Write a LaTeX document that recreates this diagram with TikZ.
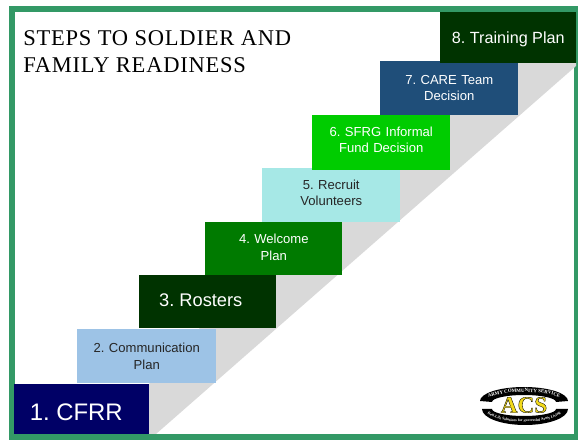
\documentclass[tikz,border=0pt]{standalone}
\usepackage{fontspec}
\setmainfont{Liberation Sans}
\newfontfamily\titlefont[LetterSpace=3.5]{Liberation Serif}
\newfontfamily\logofont{Liberation Serif}
\usepackage{xcolor}
\usetikzlibrary{positioning, decorations.text}
\definecolor{framegreen}{HTML}{339966}
\definecolor{stepgrey}{HTML}{D9D9D9}
\definecolor{navystep}{HTML}{000066}
\definecolor{skystep}{HTML}{9DC3E6}
\definecolor{darkstep}{HTML}{003300}
\definecolor{greenstep}{HTML}{007A00}
\definecolor{aquastep}{HTML}{A6E8E6}
\definecolor{limestep}{HTML}{00CC00}
\definecolor{bluestep}{HTML}{1F4E79}
\definecolor{acsyellow}{HTML}{F2D91A}
\newcommand{\liftup}[1]{\rule[-#1]{0pt}{#1}}
\newcommand{\pushdown}[1]{\rule{0pt}{#1}}
\frenchspacing

\begin{document}
\begin{tikzpicture}[
  x=0.025cm, y=-0.025cm,
  every node/.style={font=\fontsize{9.3}{11.8}\selectfont},
  stair/.style={anchor=north west, align=center, inner sep=0pt, text=white},
  stairdark/.style={stair, text=black!85}
]
\useasboundingbox (0,0) rectangle (578,444);

% Frame
\fill[white] (0,0) rectangle (578,444);
\draw[framegreen, line width=6*0.025cm] (12,9) rectangle (577,437);

% Grey band behind the stairs
\fill[stepgrey] (149,384) -- (149,434) -- (156,434) -- (576,66) -- (576,63) -- (440,63) -- cycle;

% Title
\node[anchor=north west, align=left, inner sep=0pt, font=\titlefont\fontsize{16}{19.5}\selectfont]
  (title) at (23,30) {STEPS TO SOLDIER AND\\FAMILY READINESS};

% Steps
\node[stair, fill=navystep, minimum width=135*0.025cm, minimum height=50*0.025cm, font=\fontsize{17}{19}\selectfont]
  (cfrr) at (14,384) {\pushdown{16.5pt}1. CFRR\hspace*{7.8pt}};
\node[stairdark, fill=skystep, minimum width=139*0.025cm, minimum height=54*0.025cm, text width=115*0.025cm]
  (comm) at (77,329) {2. Communication\\Plan};
\node[stair, fill=darkstep, minimum width=137*0.025cm, minimum height=53*0.025cm, font=\fontsize{13}{15}\selectfont]
  (rosters) at (139,275) {\raisebox{2.5pt}{3. Rosters}\hspace*{10pt}};
\node[stair, fill=greenstep, minimum width=137*0.025cm, minimum height=53*0.025cm, text width=100*0.025cm]
  (welcome) at (205,222) {4. Welcome\\Plan\liftup{2.5pt}};
\node[stairdark, fill=aquastep, minimum width=138*0.025cm, minimum height=54*0.025cm, text width=100*0.025cm]
  (recruit) at (262,168) {5. Recruit\\Volunteers\liftup{3.5pt}};
\node[stair, fill=limestep, minimum width=138*0.025cm, minimum height=55*0.025cm, text width=115*0.025cm]
  (sfrg) at (312,115) {6. SFRG Informal\\Fund Decision\liftup{4.5pt}};
\node[stair, fill=bluestep, minimum width=138*0.025cm, minimum height=54*0.025cm, text width=115*0.025cm]
  (care) at (380,61) {7. CARE Team\\Decision\liftup{0.5pt}};
\node[stair, fill=darkstep, minimum width=136*0.025cm, minimum height=51*0.025cm, font=\fontsize{11.5}{14}\selectfont]
  (training) at (440,12) {\pushdown{11pt}8. Training Plan};

% Logo
\fill[black] (480,401) arc[start angle=180, end angle=360, x radius=44, y radius=14]
  -- (556,402) arc[start angle=360, end angle=180, x radius=32, y radius=7] -- cycle;
\fill[black] (482,409) arc[start angle=180, end angle=0, x radius=43, y radius=16]
  -- (556,409) arc[start angle=0, end angle=180, x radius=32, y radius=7] -- cycle;
\path[decorate, decoration={text along path, text align=center,
    text={|\logofont\bfseries\fontsize{3.5}{5}\selectfont\color{white}|ARMY COMMUNITY SERVICE}}]
  (484,402) arc[start angle=180, end angle=360, x radius=40, y radius=10];
\path[decorate, decoration={text along path, text align=center,
    text={|\logofont\bfseries\fontsize{2.7}{4}\selectfont\color{white}|Real-Life Solutions for Successful Army Living}}]
  (486,410) arc[start angle=180, end angle=0, x radius=38, y radius=12];
\node[inner sep=0pt, font=\logofont\bfseries\fontsize{16.5}{16.5}\selectfont, text=acsyellow]
  (acs) at (524,405) {\special{pdf:code 0.25 w 0 0 0 RG 2 Tr}ACS\special{pdf:code 0 Tr}};
\end{tikzpicture}
\end{document}
